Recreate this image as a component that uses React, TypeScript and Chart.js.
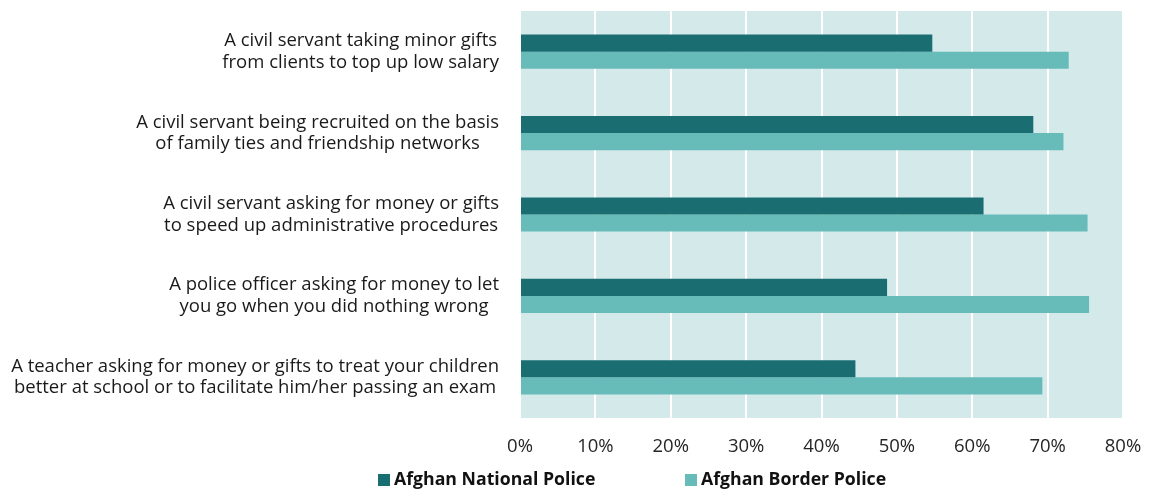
import React, { useEffect, useRef } from "react";
import { Chart, registerables } from "chart.js";

Chart.register(...registerables);

const categories: string[][] = [
  ["A civil servant taking minor gifts", "from clients to top up low salary"],
  ["A civil servant being recruited on the basis", "of family ties and friendship networks"],
  ["A civil servant asking for money or gifts", "to speed up administrative procedures"],
  ["A police officer asking for money to let", "you go when you did nothing wrong"],
  ["A teacher asking for money or gifts to treat your children", "better at school or to facilitate him/her passing an exam"],
];

const nationalPolice: number[] = [0.547, 0.681, 0.615, 0.487, 0.445];
const borderPolice: number[] = [0.728, 0.721, 0.753, 0.755, 0.693];

const seriesNames: string[] = ["Afghan National Police", "Afghan Border Police"];
const xTicks: number[] = [0, 0.1, 0.2, 0.3, 0.4, 0.5, 0.6, 0.7, 0.8];

const FONT = "'Open Sans'";
const COLORS = ["#1a6e71", "#67bbb9"];
const BG = "#d4e9ea";

const bgPlugin = {
  id: "plotBg",
  beforeDraw(chart: any) {
    const { ctx, chartArea } = chart;
    ctx.save();
    ctx.fillStyle = BG;
    ctx.fillRect(chartArea.left, chartArea.top, chartArea.right - chartArea.left, chartArea.bottom - chartArea.top);
    ctx.restore();
  },
};

const labelPlugin = {
  id: "catLabels",
  afterDraw(chart: any) {
    const { ctx } = chart;
    const yScale = chart.scales.y;
    ctx.save();
    ctx.font = `18.5px ${FONT}`;
    ctx.fillStyle = "#1a1a1a";
    ctx.textAlign = "center";
    ctx.textBaseline = "middle";
    const rightEdge = chart.chartArea.left - 21;
    const lh = 21.5;
    categories.forEach((lines, i) => {
      const cy = yScale.getPixelForValue(i);
      const w = Math.max(...lines.map((l) => ctx.measureText(l).width));
      const cx = rightEdge - w / 2;
      lines.forEach((l, j) => {
        ctx.fillText(l, cx, cy + (j - (lines.length - 1) / 2) * lh);
      });
    });
    ctx.restore();
  },
};

const legendPlugin = {
  id: "customLegend",
  afterDraw(chart: any) {
    const { ctx } = chart;
    ctx.save();
    ctx.font = `bold 17.7px ${FONT}`;
    ctx.textBaseline = "middle";
    ctx.textAlign = "left";
    const startX = 378;
    const stepX = 307;
    const y = 480;
    chart.data.datasets.forEach((ds: any, i: number) => {
      const x = startX + i * stepX;
      ctx.fillStyle = ds.backgroundColor;
      ctx.fillRect(x, y - 6, 12, 12);
      ctx.fillStyle = "#111";
      ctx.fillText(ds.label, x + 16, y);
    });
    ctx.restore();
  },
};

export default function App() {
  const ref = useRef<HTMLCanvasElement>(null);
  useEffect(() => {
    if (!ref.current) return;
    const chart = new Chart(ref.current, {
      type: "bar",
      data: {
        labels: categories.map((c) => c.join(" ")),
        datasets: [
          { label: seriesNames[0], data: nationalPolice, backgroundColor: COLORS[0], barPercentage: 1, categoryPercentage: 0.42 },
          { label: seriesNames[1], data: borderPolice, backgroundColor: COLORS[1], barPercentage: 1, categoryPercentage: 0.42 },
        ],
      },
      options: {
        indexAxis: "y",
        animation: false,
        responsive: false,
        maintainAspectRatio: false,
        layout: { padding: { top: 11, right: 26, left: 0, bottom: 0 } },
        plugins: { legend: { display: false }, tooltip: { enabled: false } },
        scales: {
          x: {
            min: 0,
            max: 0.8,
            afterBuildTicks: (scale: any) => {
              scale.ticks = xTicks.map((v) => ({ value: v }));
            },
            afterFit: (scale: any) => {
              scale.height = 72;
            },
            grid: { color: "#ffffff", lineWidth: 2, drawTicks: true, tickLength: 18, tickColor: "rgba(0,0,0,0)" },
            border: { display: false },
            ticks: {
              padding: 0,
              color: "#262626",
              font: { family: FONT, size: 18.5 },
              callback: (v: any) => `${Math.round(Number(v) * 100)}%`,
            },
          },
          y: {
            afterFit: (scale: any) => {
              scale.width = 520;
            },
            grid: { display: false },
            border: { display: false },
            ticks: { display: false },
          },
        },
      },
      plugins: [bgPlugin, labelPlugin, legendPlugin],
    });
    return () => chart.destroy();
  }, []);
  return (
    <div style={{ position: "fixed", left: 0, top: 0, width: 1149, height: 490 }}>
      <canvas ref={ref} width={1149} height={490} style={{ width: 1149, height: 490 }} />
    </div>
  );
}
